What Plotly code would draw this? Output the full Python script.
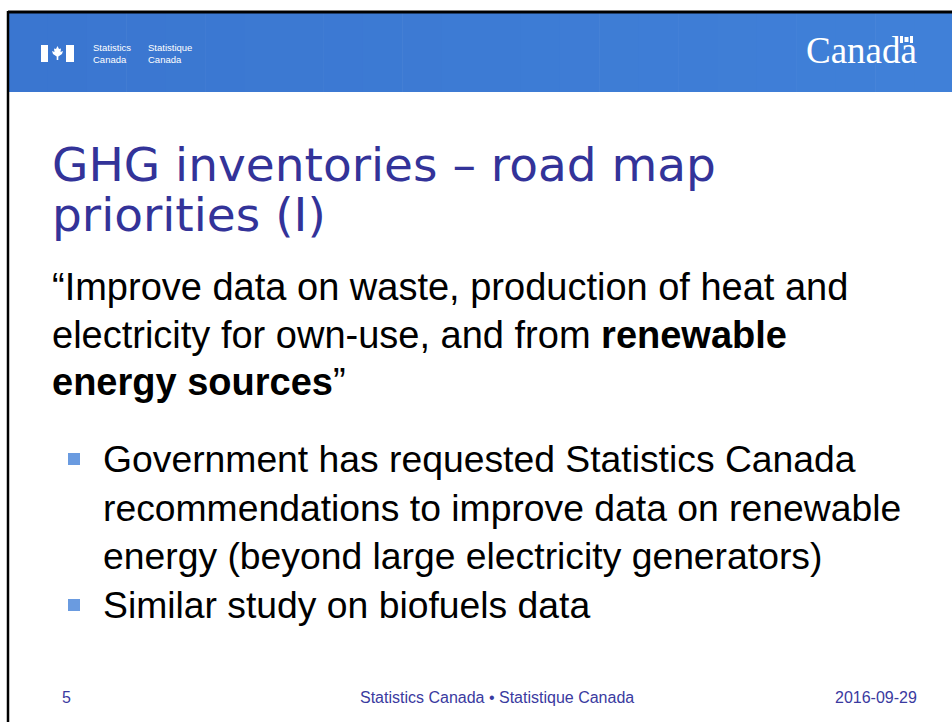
import plotly.graph_objects as go

# ---- content ----
TITLE_LINES = ["GHG inventories – road map", "priorities (I)"]
QUOTE_LINES = [
    "“Improve data on waste, production of heat and",
    "electricity for own-use, and from <b>renewable</b>",
    "<b>energy sources</b>”",
]
BULLET_1 = [
    "Government has requested Statistics Canada",
    "recommendations to improve data on renewable",
    "energy (beyond large electricity generators)",
]
BULLET_2 = ["Similar study on biofuels data"]
FOOTER_PAGE = "5"
FOOTER_CENTER = "Statistics Canada • Statistique Canada"
FOOTER_DATE = "2016-09-29"
HEADER_LEFT = ["Statistics<br>Canada", "Statistique<br>Canada"]
WORDMARK = "Canada"

W, H = 952, 722
BLUE_LEFT = (58, 118, 208)
BLUE_RIGHT = (64, 128, 216)
TITLE_COLOR = "#333399"
BULLET_COLOR = "#6a9be0"
BODY_FONT = "Liberation Sans, Arial"

fig = go.Figure()
shapes = []
ann = []

# header band (subtle left-to-right gradient built from strips)
n_strips = 24
x_start, x_end = 8, W + 2
step = (x_end - x_start) / n_strips
for i in range(n_strips):
    f = i / (n_strips - 1)
    c = tuple(round(a + (b - a) * f) for a, b in zip(BLUE_LEFT, BLUE_RIGHT))
    shapes.append(dict(type="rect", x0=x_start + i * step, x1=x_start + (i + 1) * step + 0.6,
                       y0=12, y1=92, fillcolor="rgb(%d,%d,%d)" % c, line=dict(width=0), layer="below"))
# black frame lines
shapes.append(dict(type="line", x0=8, x1=W + 2, y0=12, y1=12, line=dict(color="black", width=3)))
shapes.append(dict(type="line", x0=8, x1=8, y0=11, y1=H + 2, line=dict(color="black", width=2.5)))

# FIP symbol
shapes.append(dict(type="rect", x0=41, x1=48, y0=45, y1=62, fillcolor="white", line=dict(width=0)))
shapes.append(dict(type="rect", x0=66, x1=74, y0=45, y1=62, fillcolor="white", line=dict(width=0)))
leaf = ("M 57.5 46 L 59 49 L 61 48.5 L 60.5 52 L 63 51 L 62 54 L 58.3 56.5 L 58.3 60 "
        "L 56.7 60 L 56.7 56.5 L 53 54 L 52 51 L 54.5 52 L 54 48.5 L 56 49 Z")
shapes.append(dict(type="path", path=leaf, fillcolor="white", line=dict(width=0)))

for x, t in zip([91, 146], HEADER_LEFT):
    ann.append(dict(x=x, y=53.5, text=t, xanchor="left", yanchor="middle", showarrow=False,
                    align="left", font=dict(family=BODY_FONT, size=9.5, color="white")))

# Canada wordmark
ann.append(dict(x=919, y=50, text=WORDMARK, xanchor="right", yanchor="middle", showarrow=False,
                font=dict(family="Liberation Serif, Times New Roman", size=37, color="white")))
shapes.append(dict(type="rect", x0=900, x1=903, y0=36, y1=43, fillcolor="white", line=dict(width=0)))
shapes.append(dict(type="rect", x0=910, x1=913, y0=36, y1=43, fillcolor="white", line=dict(width=0)))
shapes.append(dict(type="rect", x0=904.5, x1=908.5, y0=37, y1=42, fillcolor="white", line=dict(width=0)))

# title
for y, t in zip([164, 214], TITLE_LINES):
    ann.append(dict(x=50, y=y, text=t, xanchor="left", yanchor="middle", showarrow=False,
                    font=dict(family="DejaVu Sans, Verdana", size=47, color=TITLE_COLOR)))

# quote paragraph
for y, t in zip([287, 335, 382], QUOTE_LINES):
    ann.append(dict(x=50, y=y, text=t, xanchor="left", yanchor="middle", showarrow=False,
                    font=dict(family=BODY_FONT, size=38, color="black")))

# bullets
bullet_y = [[459, 508, 556], [605]]
for lines, ys in zip([BULLET_1, BULLET_2], bullet_y):
    shapes.append(dict(type="rect", x0=68, x1=80, y0=ys[0] - 6, y1=ys[0] + 6,
                       fillcolor=BULLET_COLOR, line=dict(width=0)))
    for y, t in zip(ys, lines):
        ann.append(dict(x=101, y=y, text=t, xanchor="left", yanchor="middle", showarrow=False,
                        font=dict(family=BODY_FONT, size=37.3, color="black")))

# footer
foot_font = dict(family=BODY_FONT, size=16, color="#3a3aa0")
ann.append(dict(x=60, y=697, text=FOOTER_PAGE, xanchor="left", yanchor="middle", showarrow=False, font=foot_font))
ann.append(dict(x=497, y=697, text=FOOTER_CENTER, xanchor="center", yanchor="middle", showarrow=False, font=foot_font))
ann.append(dict(x=919, y=697, text=FOOTER_DATE, xanchor="right", yanchor="middle", showarrow=False, font=foot_font))

fig.update_layout(
    width=W, height=H,
    margin=dict(l=0, r=0, t=0, b=0),
    paper_bgcolor="white", plot_bgcolor="white",
    xaxis=dict(range=[0, W], visible=False, fixedrange=True),
    yaxis=dict(range=[H, 0], visible=False, fixedrange=True),
    shapes=shapes, annotations=ann, showlegend=False,
)
fig.write_html("out.html", config={"displayModeBar": False},
               post_script="document.body.style.margin='0';document.body.style.overflow='hidden';")
